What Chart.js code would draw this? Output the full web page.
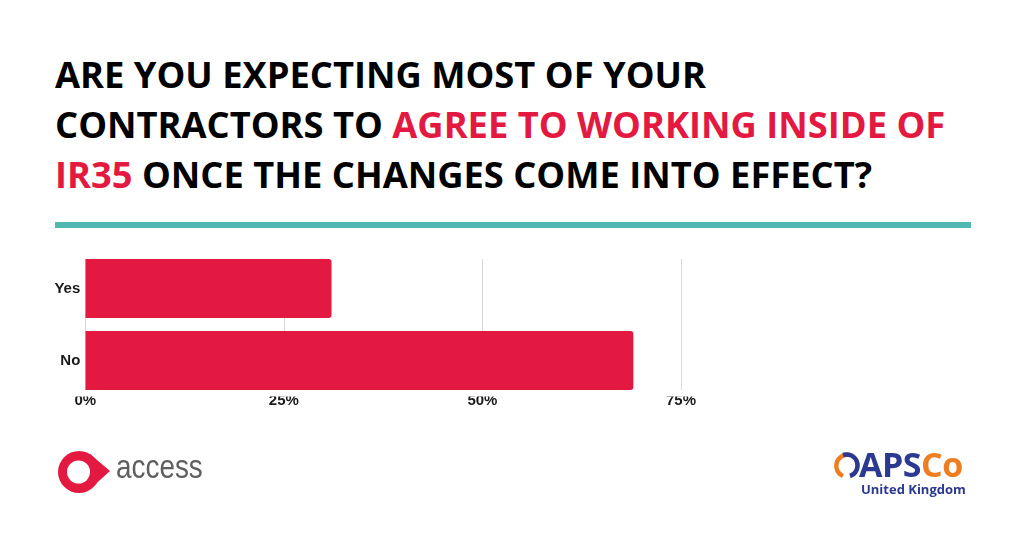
<!DOCTYPE html>
<html>
<head>
<meta charset="utf-8">
<script src="https://cdn.jsdelivr.net/npm/chart.js@4/dist/chart.umd.min.js"></script>
<style>
  html, body { margin: 0; padding: 0; background: #fff; }
  body { width: 1024px; height: 535px; position: relative; overflow: hidden; }
  .title {
    position: absolute; left: 55px; top: 49px;
    font-family: "Open Sans", sans-serif; font-weight: 700;
    font-size: 36.3px; line-height: 50px; color: #000; white-space: nowrap;
  }
  .title .hl { color: #e31941; }
  .rule { position: absolute; left: 55px; top: 222px; width: 916px; height: 6px; background: #50b8b0; }
  .chart-box { position: absolute; left: 0; top: 250px; width: 720px; height: 170px; }
  .chart-box canvas { display: block; }
  .access { position: absolute; left: 116px; top: 448px; font-family: "Liberation Sans", Arial, sans-serif;
    font-size: 34px; color: #5f5f5f; line-height: 36px; transform: scaleX(0.82); transform-origin: 0 0; }
  .apsco { position: absolute; left: 859px; top: 444px; font-family: "Open Sans", sans-serif; font-weight: 700;
    font-size: 34px; line-height: 40px; color: #2b3990; letter-spacing: -0.5px; }
  .apsco .co { color: #ef7d22; }
  .uk { position: absolute; left: 861px; top: 479px; font-family: "Open Sans", sans-serif; font-weight: 700;
    font-size: 13px; line-height: 20px; color: #2b3990; }
  svg.logos { position: absolute; left: 0; top: 0; }
</style>
</head>
<body>
<div class="title">
  ARE YOU EXPECTING MOST OF YOUR<br>
  CONTRACTORS TO <span class="hl">AGREE TO WORKING INSIDE OF</span><br>
  <span class="hl">IR35</span> ONCE THE CHANGES COME INTO EFFECT?
</div>
<div class="rule"></div>

<div class="chart-box"><canvas id="chart" width="720" height="170"></canvas></div>

<svg class="logos" width="1024" height="535">
  <!-- access mark -->
  <circle cx="79" cy="472" r="21" fill="#e31941"/>
  <polygon points="90,454 110,471 90,489" fill="#e31941"/>
  <circle cx="78.5" cy="472" r="11.5" fill="#fff"/>
  <!-- apsco mark -->
  <path d="M 849 455 A 11 11 0 0 0 843 476" fill="none" stroke="#ef7d22" stroke-width="4.5"/>
  <path d="M 843 455 A 11 11 0 0 1 850 476" fill="none" stroke="#2b3990" stroke-width="4.5"/>
</svg>
<div class="access">access</div>
<div class="apsco">APS<span class="co">Co</span></div>
<div class="uk">United Kingdom</div>

<script>
const categories = ['Yes', 'No'];
const shares = [31, 69];
const xTicks = [0, 25, 50, 75];

const barColor = '#e31941';
const gridColor = '#d9d9d9';
const tickFont = { family: '"Liberation Sans", Arial, sans-serif', size: 15, weight: 'bold' };

// vertical grid lines that only run from the top of the first bar to the bottom of the last
const clippedGrid = {
  id: 'clippedGrid',
  beforeDatasetsDraw(chart) {
    const bars = chart.getDatasetMeta(0).data;
    if (!bars.length) return;
    const first = bars[0].getProps(['y', 'height'], true);
    const last = bars[bars.length - 1].getProps(['y', 'height'], true);
    const top = first.y - first.height / 2;
    const bottom = last.y + last.height / 2;
    const xScale = chart.scales.x;
    const c = chart.ctx;
    c.save();
    c.strokeStyle = gridColor;
    c.lineWidth = 1;
    xScale.ticks.forEach(t => {
      const px = Math.round(xScale.getPixelForValue(t.value)) + 0.5;
      c.beginPath();
      c.moveTo(px, top);
      c.lineTo(px, bottom);
      c.stroke();
    });
    c.restore();
  }
};

const ctx = document.getElementById('chart').getContext('2d');
new Chart(ctx, {
  type: 'bar',
  data: {
    labels: categories,
    datasets: [{
      data: shares,
      backgroundColor: barColor,
      borderRadius: 3,
      borderSkipped: 'start',
      barPercentage: 0.82,
      categoryPercentage: 1.0
    }]
  },
  options: {
    indexAxis: 'y',
    responsive: false,
    maintainAspectRatio: false,
    animation: false,
    layout: { padding: { left: 0, right: 39, top: 2.5, bottom: 0 } },
    plugins: { legend: { display: false }, tooltip: { enabled: false } },
    scales: {
      x: {
        min: 0,
        max: 75,
        afterBuildTicks: (scale) => { scale.ticks = xTicks.map(v => ({ value: v })); },
        afterFit: (scale) => { scale.height = 23.5; },
        grid: { display: false, drawTicks: false },
        border: { display: false },
        ticks: { color: '#1a1a1a', font: tickFont, padding: -4.5, callback: v => v + '%' }
      },
      y: {
        afterFit: (scale) => {
          scale.width = 85.3;
          // labels sit at band centres, no extra room needed above/below
          scale.paddingTop = 0;
          scale.paddingBottom = 0;
        },
        grid: { display: false, drawTicks: false },
        border: { display: false },
        ticks: { color: '#1a1a1a', font: tickFont, padding: 5 }
      }
    }
  },
  plugins: [clippedGrid]
});
</script>
</body>
</html>
